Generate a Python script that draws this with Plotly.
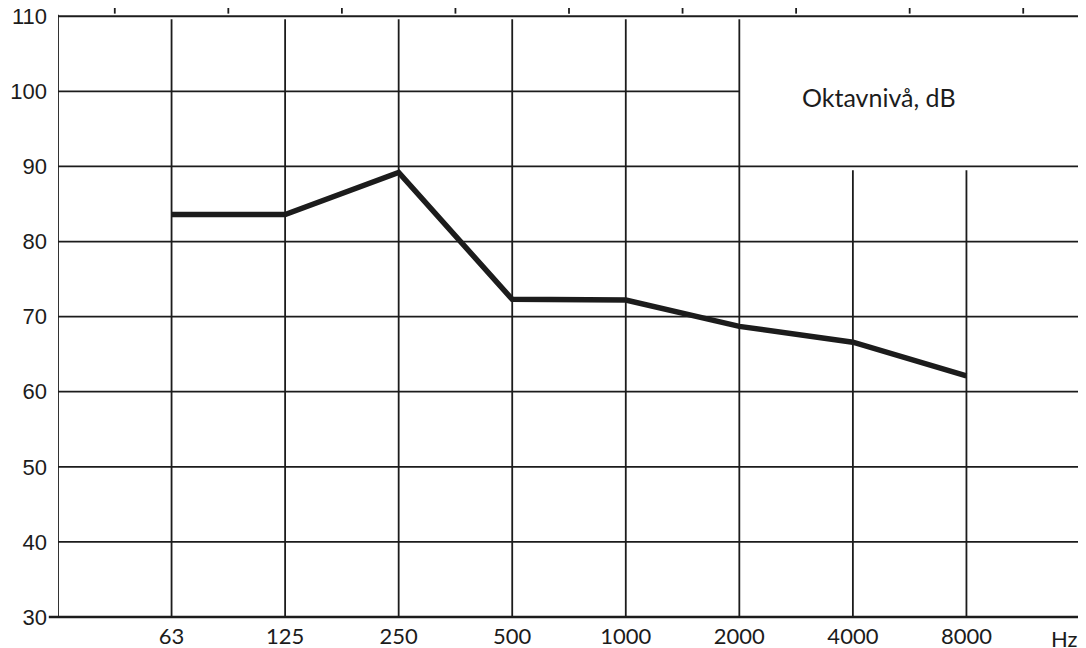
import plotly.graph_objects as go

# octave band centre frequencies and measured level
freqs = ["63", "125", "250", "500", "1000", "2000", "4000", "8000"]
level_db = [83.6, 83.6, 89.2, 72.3, 72.2, 68.7, 66.6, 62.1]
y_ticks = [30, 40, 50, 60, 70, 80, 90, 100, 110]

INK = "#1c1c1c"
GRID_W = 1.8

xpos = list(range(1, len(freqs) + 1))
x_right = len(freqs) + 1

fig = go.Figure()
fig.add_trace(go.Scatter(
    x=xpos, y=level_db, mode="lines",
    line=dict(color=INK, width=5.5),
    hoverinfo="skip", cliponaxis=False,
))

shapes = []
# horizontal grid lines; the 100 line stops where the label box starts (2000 Hz)
for v in y_ticks:
    x1 = 6 if v == 100 else x_right
    shapes.append(dict(type="line", xref="x", yref="y", x0=0, x1=x1, y0=v, y1=v,
                       line=dict(color=INK, width=GRID_W)))
# vertical grid lines; 4000 and 8000 start below the label box
for i, f in zip(xpos, freqs):
    top = 89.5 if f in ("4000", "8000") else 109.6
    shapes.append(dict(type="line", xref="x", yref="y", x0=i, x1=i, y0=30, y1=top,
                       line=dict(color=INK, width=GRID_W)))
# frame left / right
for xx in (0, x_right):
    shapes.append(dict(type="line", xref="x", yref="y", x0=xx, x1=xx, y0=30, y1=110.2,
                       line=dict(color=INK, width=GRID_W)))
# bottom line reaches a little past the left frame
shapes.append(dict(type="line", xref="paper", yref="y", x0=-0.009, x1=1, y0=30, y1=30,
                   line=dict(color=INK, width=2.4)))
# small tick stubs above the top line (half-octave positions)
for i in range(len(freqs) + 1):
    shapes.append(dict(type="line", xref="x", yref="y", x0=i + 0.5, x1=i + 0.5,
                       y0=110.35, y1=112,
                       line=dict(color=INK, width=GRID_W)))

# the page body adds an 8px offset, so the figure is 8px smaller than the window
fig.update_layout(
    width=1078, height=640,
    margin=dict(l=50, r=6, t=0, b=28),
    plot_bgcolor="white", paper_bgcolor="white",
    showlegend=False,
    shapes=shapes,
    xaxis=dict(range=[0, x_right], tickvals=xpos, ticktext=freqs,
               showgrid=False, zeroline=False, showline=False, ticks="",
               automargin=False, ticklabelstandoff=1, ticklabeloverflow="allow",
               tickfont=dict(family="Lato", size=22, color=INK)),
    yaxis=dict(range=[29.6, 111.1], tickvals=y_ticks,
               showgrid=False, zeroline=False, showline=False, ticks="",
               automargin=False, ticklabelstandoff=10, ticklabeloverflow="allow",
               tickfont=dict(family="Liberation Sans", size=22, color=INK)),
    annotations=[
        dict(text="Oktavnivå, dB", xref="x", yref="y", x=7.23, y=99.3,
             showarrow=False, font=dict(family="Lato", size=25, color=INK)),
        dict(text="Hz", xref="x", yref="paper", x=8.86, y=0, yanchor="top", yshift=-3,
             showarrow=False, font=dict(family="Lato", size=22, color=INK)),
    ],
)

fig.write_html("out.html")
